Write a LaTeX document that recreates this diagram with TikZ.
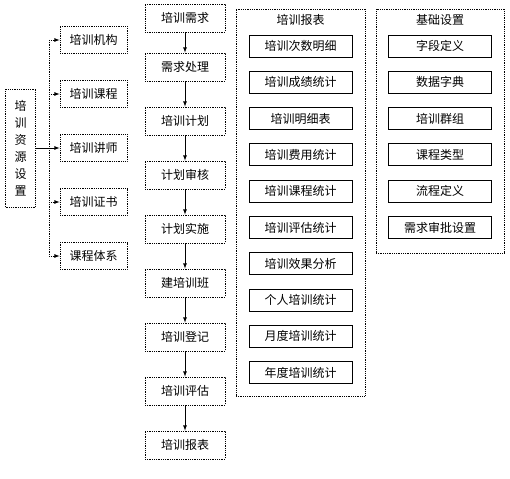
\documentclass[tikz,border=0pt]{standalone}
\usepackage{fontspec}
\newfontfamily\cjk{Noto Sans CJK SC}
\usetikzlibrary{arrows, shapes, positioning}

\begin{document}
\begin{tikzpicture}[x=1pt, y=-1pt, node distance=54pt, line width=0.8pt, >=latex,
                    flowbox/.style= {rectangle,
                      draw,
                      densely dotted,
                      font=\cjk\fontsize{12}{14}\selectfont,
                      inner sep=0pt,
                      minimum width=80pt,
                      minimum height=28pt},
                    sidebox/.style= {rectangle,
                      draw,
                      densely dotted,
                      font=\cjk\fontsize{12}{14}\selectfont,
                      inner sep=0pt,
                      minimum width=67pt,
                      minimum height=27pt},
                    itembox/.style= {rectangle,
                      draw,
                      font=\cjk\fontsize{12}{14}\selectfont,
                      inner sep=0pt,
                      minimum width=103pt,
                      minimum height=22pt},
                    panelbox/.style= {rectangle,
                      draw,
                      densely dotted,
                      inner sep=0pt}]

  \useasboundingbox (0,0) rectangle (510,478);

  % main flow
  \node[flowbox] (1) at (185,18) {培训需求};
  \node[flowbox] (2) [below of=1, yshift=5pt] {需求处理};
  \node[flowbox] (3) [below of=2] {培训计划};
  \node[flowbox] (4) [below of=3] {计划审核};
  \node[flowbox] (5) [below of=4] {计划实施};
  \node[flowbox] (6) [below of=5] {建培训班};
  \node[flowbox] (7) [below of=6] {培训登记};
  \node[flowbox] (8) [below of=7] {培训评估};
  \node[flowbox] (9) [below of=8] {培训报表};

  % resource settings
  \node[sidebox, minimum width=30pt, minimum height=118pt, align=center,
        font=\cjk\fontsize{12}{17}\selectfont] (10) at (20.5,148) {培\\训\\资\\源\\设\\置};
  \node[sidebox] (11) at (93.5,40) {培训机构};
  \node[sidebox] (12) [below of=11] {培训课程};
  \node[sidebox] (13) [below of=12] {培训讲师};
  \node[sidebox] (14) [below of=13] {培训证书};
  \node[sidebox] (15) [below of=14] {课程体系};
  \coordinate (16) at (49,148);

  % report panel
  \node[panelbox, minimum width=129pt, minimum height=387pt] (20) at (300.5,202.5) {};
  \node[font=\cjk\fontsize{12}{14}\selectfont] (21) at (300.5,20) {培训报表};
  \node[itembox] (22) at (300.5,46) {培训次数明细};
  \node[itembox] (23) [below of=22, node distance=36.3pt] {培训成绩统计};
  \node[itembox] (24) [below of=23, node distance=36.3pt] {培训明细表};
  \node[itembox] (25) [below of=24, node distance=36.3pt] {培训费用统计};
  \node[itembox] (26) [below of=25, node distance=36.3pt] {培训课程统计};
  \node[itembox] (27) [below of=26, node distance=36.3pt] {培训评估统计};
  \node[itembox] (28) [below of=27, node distance=36.3pt] {培训效果分析};
  \node[itembox] (29) [below of=28, node distance=36.3pt] {个人培训统计};
  \node[itembox] (30) [below of=29, node distance=36.3pt] {月度培训统计};
  \node[itembox] (31) [below of=30, node distance=36.3pt] {年度培训统计};

  % base settings panel
  \node[panelbox, minimum width=128pt, minimum height=244pt] (40) at (440,131) {};
  \node[font=\cjk\fontsize{12}{14}\selectfont] (41) at (440,20) {基础设置};
  \node[itembox] (42) at (440,46) {字段定义};
  \node[itembox] (43) [below of=42, node distance=36.3pt] {数据字典};
  \node[itembox] (44) [below of=43, node distance=36.3pt] {培训群组};
  \node[itembox] (45) [below of=44, node distance=36.3pt] {课程类型};
  \node[itembox] (46) [below of=45, node distance=36.3pt] {流程定义};
  \node[itembox] (47) [below of=46, node distance=36.3pt] {需求审批设置};

  \path[->]
    (1) edge (2)
    (2) edge (3)
    (3) edge (4)
    (4) edge (5)
    (5) edge (6)
    (6) edge (7)
    (7) edge (8)
    (8) edge (9);

  \draw (10.east) -- (16);
  \draw[densely dotted] (16 |- 11.west) -- (16 |- 15.west);
  \path[->]
    (16) edge (13.west);
  \path[->, densely dotted]
    (16 |- 11.west) edge (11.west)
    (16 |- 12.west) edge (12.west)
    (16 |- 14.west) edge (14.west)
    (16 |- 15.west) edge (15.west);
\end{tikzpicture}
\end{document}
